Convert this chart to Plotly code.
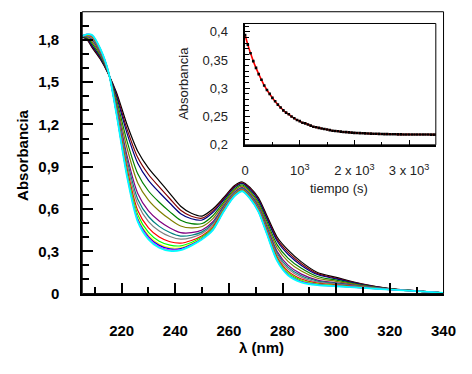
import plotly.graph_objects as go

# Wavelengths (nm) at which each spectrum is sampled
wavelength = [205, 207, 209, 212, 215, 218, 222, 226, 230, 234, 238, 242, 246, 250,
              254, 258, 262, 265, 268, 271, 274, 278, 282, 287, 293, 300, 310, 320, 330, 340]

# Absorbance spectra recorded over time (first = black, last = cyan)
spec_01 = [1.822, 1.805, 1.745, 1.665, 1.560, 1.430, 1.200, 1.010, 0.890, 0.800, 0.710, 0.620, 0.570, 0.550,
           0.600, 0.680, 0.765, 0.792, 0.750, 0.680, 0.560, 0.400, 0.310, 0.225, 0.150, 0.115, 0.067, 0.035, 0.019, 0.005]
spec_02 = [1.822, 1.808, 1.753, 1.672, 1.562, 1.417, 1.167, 0.965, 0.845, 0.757, 0.673, 0.592, 0.549, 0.535,
           0.587, 0.671, 0.758, 0.786, 0.743, 0.671, 0.548, 0.385, 0.294, 0.212, 0.142, 0.109, 0.065, 0.034, 0.019, 0.005]
spec_03 = [1.823, 1.811, 1.760, 1.678, 1.563, 1.405, 1.137, 0.925, 0.804, 0.719, 0.641, 0.567, 0.531, 0.522,
           0.575, 0.663, 0.752, 0.781, 0.736, 0.663, 0.538, 0.371, 0.279, 0.200, 0.135, 0.104, 0.062, 0.034, 0.019, 0.005]
spec_04 = [1.823, 1.816, 1.774, 1.689, 1.566, 1.382, 1.082, 0.850, 0.728, 0.648, 0.580, 0.520, 0.496, 0.497,
           0.552, 0.648, 0.741, 0.771, 0.724, 0.648, 0.518, 0.346, 0.252, 0.179, 0.121, 0.095, 0.058, 0.033, 0.018, 0.005]
spec_05 = [1.824, 1.821, 1.786, 1.699, 1.569, 1.362, 1.033, 0.785, 0.663, 0.586, 0.527, 0.480, 0.466, 0.476,
           0.532, 0.635, 0.731, 0.762, 0.714, 0.635, 0.501, 0.323, 0.229, 0.160, 0.109, 0.087, 0.055, 0.032, 0.018, 0.005]
spec_06 = [1.824, 1.826, 1.799, 1.710, 1.572, 1.340, 0.978, 0.710, 0.587, 0.515, 0.466, 0.433, 0.432, 0.451,
           0.510, 0.620, 0.720, 0.752, 0.702, 0.620, 0.482, 0.298, 0.202, 0.138, 0.096, 0.077, 0.051, 0.031, 0.018, 0.005]
spec_07 = [1.825, 1.829, 1.806, 1.716, 1.574, 1.328, 0.948, 0.670, 0.547, 0.477, 0.433, 0.408, 0.414, 0.438,
           0.498, 0.612, 0.714, 0.746, 0.696, 0.612, 0.472, 0.284, 0.188, 0.126, 0.089, 0.072, 0.049, 0.030, 0.018, 0.005]
spec_08 = [1.825, 1.831, 1.813, 1.721, 1.575, 1.317, 0.922, 0.635, 0.511, 0.444, 0.405, 0.386, 0.397, 0.426,
           0.487, 0.605, 0.709, 0.742, 0.690, 0.605, 0.462, 0.272, 0.175, 0.116, 0.082, 0.068, 0.047, 0.030, 0.018, 0.005]
spec_09 = [1.825, 1.834, 1.821, 1.728, 1.577, 1.304, 0.889, 0.590, 0.466, 0.401, 0.368, 0.358, 0.377, 0.411,
           0.474, 0.596, 0.702, 0.736, 0.683, 0.596, 0.451, 0.257, 0.159, 0.103, 0.074, 0.062, 0.044, 0.029, 0.017, 0.005]
spec_10 = [1.826, 1.837, 1.826, 1.733, 1.578, 1.295, 0.867, 0.560, 0.435, 0.372, 0.344, 0.339, 0.363, 0.401,
           0.465, 0.590, 0.697, 0.732, 0.678, 0.590, 0.443, 0.247, 0.148, 0.094, 0.069, 0.058, 0.043, 0.029, 0.017, 0.005]
spec_11 = [1.826, 1.838, 1.830, 1.736, 1.579, 1.288, 0.850, 0.537, 0.413, 0.351, 0.325, 0.325, 0.353, 0.394,
           0.458, 0.585, 0.694, 0.729, 0.674, 0.585, 0.437, 0.239, 0.140, 0.088, 0.065, 0.055, 0.041, 0.028, 0.017, 0.005]
spec_12 = [1.826, 1.839, 1.832, 1.737, 1.579, 1.285, 0.843, 0.527, 0.403, 0.342, 0.317, 0.319, 0.348, 0.391,
           0.455, 0.583, 0.693, 0.727, 0.673, 0.583, 0.435, 0.236, 0.136, 0.085, 0.063, 0.054, 0.041, 0.028, 0.017, 0.005]
spec_13 = [1.826, 1.839, 1.834, 1.739, 1.580, 1.282, 0.836, 0.517, 0.393, 0.332, 0.309, 0.313, 0.343, 0.387,
           0.452, 0.581, 0.691, 0.726, 0.671, 0.581, 0.432, 0.233, 0.133, 0.082, 0.061, 0.053, 0.040, 0.028, 0.017, 0.005]
spec_14 = [1.826, 1.840, 1.835, 1.740, 1.580, 1.280, 0.830, 0.510, 0.385, 0.325, 0.303, 0.308, 0.340, 0.385,
           0.450, 0.580, 0.690, 0.725, 0.670, 0.580, 0.430, 0.230, 0.130, 0.080, 0.060, 0.052, 0.040, 0.028, 0.017, 0.005]

spectra = [spec_01, spec_02, spec_03, spec_04, spec_05, spec_06, spec_07,
           spec_08, spec_09, spec_10, spec_11, spec_12, spec_13, spec_14]
spectrum_colors = ["#000000", "#800000", "#000080", "#008000", "#808000", "#800080", "#008080",
                   "#808080", "#ff0000", "#00ff00", "#ffff00", "#0000ff", "#ff00ff", "#00ffff"]

# Absorbance decay followed at a single wavelength
time_s = list(range(0, 3501, 50))
abs_time = [0.394, 0.377, 0.362, 0.348, 0.336, 0.325, 0.315, 0.305, 0.297, 0.290,
            0.283, 0.277, 0.271, 0.266, 0.261, 0.257, 0.254, 0.250, 0.247, 0.244,
            0.242, 0.239, 0.238, 0.236, 0.234, 0.232, 0.231, 0.230, 0.229, 0.228,
            0.227, 0.226, 0.225, 0.2245, 0.224, 0.2233, 0.2227, 0.2224, 0.222, 0.2216,
            0.2212, 0.221, 0.2207, 0.2205, 0.2202, 0.220, 0.2198, 0.2196, 0.2195, 0.2193,
            0.2192, 0.2190, 0.2189, 0.2188, 0.2187, 0.2186, 0.2185, 0.2185, 0.2184, 0.2184,
            0.2184, 0.2183, 0.2183, 0.2183, 0.2182, 0.2182, 0.2182, 0.2182, 0.2181, 0.2181, 0.2181]

main_yticks = [0, 0.3, 0.6, 0.9, 1.2, 1.5, 1.8]
main_ytext = ["0", "0,3", "0,6", "0,9", "1,2", "1,5", "1,8"]
main_xticks = [220, 240, 260, 280, 300, 320, 340]
inset_xticks = [0, 1000, 2000, 3000]
inset_xtext = ["0", "10<sup>3</sup>", "2 x 10<sup>3</sup>", "3 x 10<sup>3</sup>"]
inset_yticks = [0.2, 0.25, 0.3, 0.35, 0.4]
inset_ytext = ["0,2", "0,25", "0,3", "0,35", "0,4"]

FONT = "Liberation Sans, Arial, sans-serif"
W, H = 472, 374

# plot area positions in pixels
MX0, MX1, MY0, MY1 = 82, 456, 12, 300
IX0, IX1, IY0, IY1 = 250, 448, 24, 148

fig = go.Figure()

for spec, col in zip(spectra, spectrum_colors):
    fig.add_trace(go.Scatter(
        x=wavelength, y=spec, mode="lines",
        line=dict(color=col, width=1.8 if col == "#00ffff" else 1.2, shape="spline", smoothing=0.8),
        xaxis="x", yaxis="y", showlegend=False, hoverinfo="skip"))

fig.add_trace(go.Scatter(
    x=time_s, y=abs_time, mode="lines", line=dict(color="#ff0000", width=1.6, shape="spline"),
    xaxis="x2", yaxis="y2", showlegend=False))
fig.add_trace(go.Scatter(
    x=time_s, y=abs_time, mode="markers",
    marker=dict(color="#000000", size=2.6, symbol="square", line=dict(width=0)),
    xaxis="x2", yaxis="y2", showlegend=False))


def px(x):
    return x / W


def py(y):
    return 1 - y / H


fig.update_layout(
    width=W, height=H,
    margin=dict(l=0, r=0, t=0, b=0),
    paper_bgcolor="white", plot_bgcolor="white",
    font=dict(family=FONT, color="black"),
    xaxis=dict(
        domain=[px(MX0), px(MX1)], range=[205.3, 340], anchor="y",
        tickvals=main_xticks, ticks="inside", ticklen=11, tickwidth=1.5, tickcolor="black",
        minor=dict(dtick=10, tick0=200, ticks="inside", ticklen=7, tickwidth=1.5, tickcolor="black"),
        showline=True, linewidth=2, linecolor="black", showgrid=False, zeroline=False,
        tickfont=dict(size=15, family=FONT, color="black", weight="bold"), ticklabelstandoff=22),
    yaxis=dict(
        domain=[py(MY1), py(MY0)], range=[0, 2.0], anchor="x",
        tickvals=main_yticks, ticktext=main_ytext,
        ticks="inside", ticklen=11, tickwidth=1.5, tickcolor="black",
        minor=dict(dtick=0.1, tick0=0, ticks="inside", ticklen=7, tickwidth=1.5, tickcolor="black"),
        showline=True, linewidth=2, linecolor="black", showgrid=False, zeroline=False,
        tickfont=dict(size=15, family=FONT, color="black", weight="bold"), ticklabelstandoff=18),
    xaxis2=dict(
        domain=[px(IX0), px(IX1)], range=[-10, 3490], anchor="y2",
        tickvals=inset_xticks, ticktext=inset_xtext,
        ticks="inside", ticklen=5, tickwidth=1, tickcolor="black",
        minor=dict(dtick=500, tick0=0, ticks="inside", ticklen=3, tickwidth=1, tickcolor="black"),
        showline=True, linewidth=2, linecolor="black", showgrid=False, zeroline=False,
        tickfont=dict(size=13, family=FONT, color="#222222"), ticklabelstandoff=13),
    yaxis2=dict(
        domain=[py(IY1), py(IY0)], range=[0.2, 0.4145], anchor="x2",
        tickvals=inset_yticks, ticktext=inset_ytext,
        ticks="inside", ticklen=5, tickwidth=1, tickcolor="black",
        minor=dict(dtick=0.01, tick0=0.2, ticks="inside", ticklen=4, tickwidth=1, tickcolor="black"),
        showline=True, linewidth=2, linecolor="black", showgrid=False, zeroline=False,
        tickfont=dict(size=13, family=FONT, color="#222222"), ticklabelstandoff=12),
    shapes=[
        dict(type="rect", xref="paper", yref="paper", x0=px(MX0), x1=px(MX1), y0=py(MY1), y1=py(MY0),
             line=dict(color="black", width=1), layer="above"),
        dict(type="rect", xref="paper", yref="paper", x0=px(IX0), x1=px(IX1), y0=py(IY1), y1=py(IY0),
             line=dict(color="black", width=1), layer="above"),
    ],
    annotations=[
        dict(text="<b>Absorbancia</b>", xref="paper", yref="paper", x=px(20), y=py(158),
             xanchor="center", yanchor="middle",
             textangle=-90, showarrow=False, font=dict(size=15, family=FONT, color="black")),
        dict(text="<b>λ (nm)</b>", xref="paper", yref="paper", x=px(268), y=py(355),
             xanchor="center", yanchor="middle",
             showarrow=False, font=dict(size=15, family=FONT, color="black")),
        dict(text="Absorbancia", xref="paper", yref="paper", x=px(187), y=py(85),
             xanchor="center", yanchor="middle",
             textangle=-90, showarrow=False, font=dict(size=13, family=FONT, color="#222222")),
        dict(text="tiempo (s)", xref="paper", yref="paper", x=px(348), y=py(193),
             xanchor="center", yanchor="middle",
             showarrow=False, font=dict(size=13, family=FONT, color="#222222")),
    ],
)

# keep the page exactly the size of the figure (no body margin, no scrollbars)
page_css = ("document.documentElement.style.margin='0';document.body.style.margin='0';"
            "document.documentElement.style.overflow='hidden';document.body.style.overflow='hidden';")

fig.write_html("out.html", post_script=page_css)
